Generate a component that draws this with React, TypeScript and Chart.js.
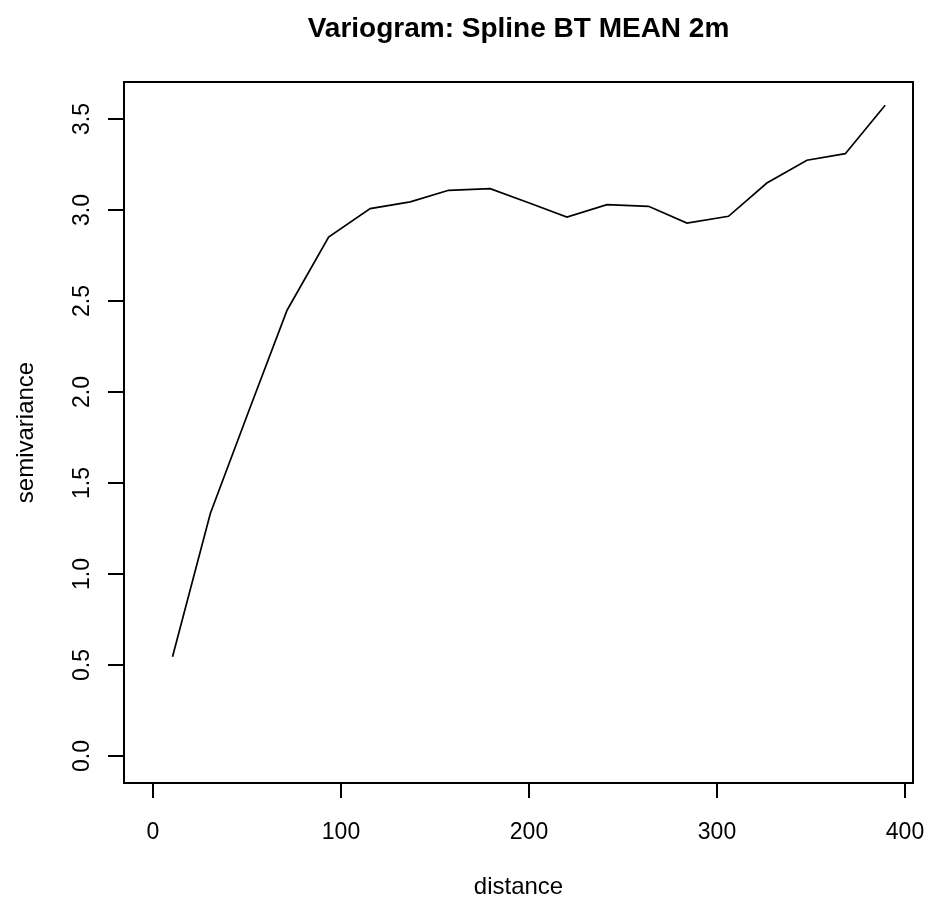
import React, { useEffect, useRef } from "react";
import { Chart, registerables } from "chart.js";

Chart.register(...registerables);

const titleText = "Variogram: Spline BT MEAN 2m";
const xTitle = "distance";
const yTitle = "semivariance";

const distances = [10.6, 30.7, 51.1, 71.5, 93.6, 115.7, 137.0, 157.4, 179.5, 200.3, 220.3, 241.6, 263.7, 284.1, 306.2, 326.6, 347.9, 368.3, 389.5];
const semivariance = [0.547, 1.334, 1.896, 2.451, 2.853, 3.009, 3.046, 3.11, 3.119, 3.04, 2.963, 3.031, 3.022, 2.93, 2.967, 3.15, 3.275, 3.311, 3.577];

const xTicks = [0, 100, 200, 300, 400];
const xTickLabels = ["0", "100", "200", "300", "400"];
const yTicks = [0, 0.5, 1, 1.5, 2, 2.5, 3, 3.5];
const yTickLabels = ["0.0", "0.5", "1.0", "1.5", "2.0", "2.5", "3.0", "3.5"];

const FONT = '"Liberation Sans", Arial, sans-serif';

const framePlugin = {
  id: "rframe",
  afterDraw(chart: any) {
    const ctx = chart.ctx as CanvasRenderingContext2D;
    const area = chart.chartArea;
    const xs = chart.scales.x;
    const ys = chart.scales.y;
    ctx.save();
    ctx.strokeStyle = "#000";
    ctx.fillStyle = "#000";
    ctx.lineWidth = 2;
    ctx.strokeRect(area.left, area.top, area.right - area.left, area.bottom - area.top);

    // x ticks
    ctx.lineWidth = 2;
    ctx.font = `23px ${FONT}`;
    ctx.textAlign = "center";
    ctx.textBaseline = "alphabetic";
    xTicks.forEach((v, i) => {
      const px = Math.round(xs.getPixelForValue(v));
      ctx.beginPath();
      ctx.moveTo(px, area.bottom);
      ctx.lineTo(px, area.bottom + 15);
      ctx.stroke();
      ctx.fillText(xTickLabels[i], px, 839);
    });

    // y ticks
    yTicks.forEach((v, i) => {
      const py = Math.round(ys.getPixelForValue(v));
      ctx.beginPath();
      ctx.moveTo(area.left, py);
      ctx.lineTo(area.left - 16, py);
      ctx.stroke();
      ctx.save();
      ctx.translate(89, py);
      ctx.rotate(-Math.PI / 2);
      ctx.fillText(yTickLabels[i], 0, 0);
      ctx.restore();
    });

    // axis titles
    const cx = (area.left + area.right) / 2;
    const cy = (area.top + area.bottom) / 2;
    ctx.font = `24px ${FONT}`;
    ctx.fillText(xTitle, cx, 894);
    ctx.save();
    ctx.translate(33, cy);
    ctx.rotate(-Math.PI / 2);
    ctx.fillText(yTitle, 0, 0);
    ctx.restore();

    // main title
    ctx.font = `bold 28px ${FONT}`;
    ctx.fillText(titleText, cx, 37);
    ctx.restore();
  },
};

export default function App() {
  const canvasRef = useRef<HTMLCanvasElement | null>(null);

  useEffect(() => {
    document.body.style.margin = "0";
    const canvas = canvasRef.current;
    if (!canvas) return;
    const chart = new Chart(canvas, {
      type: "line",
      data: {
        datasets: [
          {
            data: distances.map((d, i) => ({ x: d, y: semivariance[i] })),
            borderColor: "#000",
            borderWidth: 1.7,
            pointRadius: 0,
            fill: false,
            tension: 0,
          },
        ],
      },
      options: {
        responsive: false,
        animation: false,
        events: [],
        layout: { padding: { left: 124, right: 14, top: 82, bottom: 115 } },
        plugins: {
          legend: { display: false },
          tooltip: { enabled: false },
          title: { display: false },
        },
        scales: {
          x: { type: "linear", display: false, min: -15.2, max: 404.3 },
          y: { type: "linear", display: false, min: -0.147, max: 3.705 },
        },
      },
      plugins: [framePlugin],
    });
    return () => chart.destroy();
  }, []);

  return (
    <div style={{ position: "absolute", left: 0, top: 0, width: 927, height: 898, background: "#fff" }}>
      <canvas ref={canvasRef} width={927} height={898} style={{ display: "block", width: 927, height: 898 }} />
    </div>
  );
}
